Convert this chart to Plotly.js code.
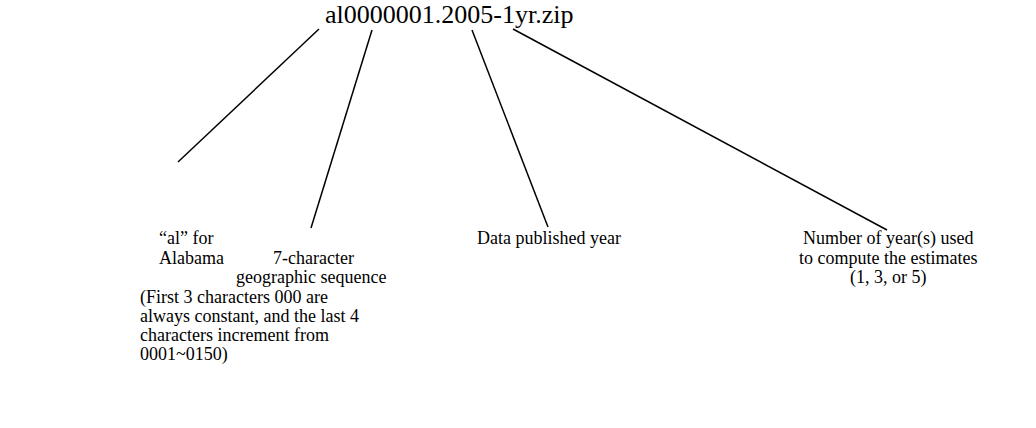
<!DOCTYPE html>
<html>
<head>
<meta charset="utf-8">
<script src="https://cdn.plot.ly/plotly-3.0.1.min.js"></script>
<style>html,body{margin:0;padding:0;background:#fff;}#chart{width:1036px;height:428px;}</style>
</head>
<body>
<div id="chart"></div>
<script>
// File name being explained
const fileName = "al0000001.2005-1yr.zip";
const fileNamePos = [449, 14];

// Connector lines: start point under the file name, end point above each label
const connStartX = [319, 372, 472, 513];
const connStartY = [29, 30, 30, 29];
const connEndX = [178, 311, 548, 887];
const connEndY = [162, 228, 227, 230];

// Label lines: text, x, y, alignment
const labelText = [
  "\u201cal\u201d for", "Alabama",
  "7-character", "geographic sequence",
  "(First 3 characters 000 are", "always constant, and the last 4",
  "characters increment from", "0001~0150)",
  "Data published year",
  "Number of year(s) used", "to compute the estimates", "(1, 3, or 5)"
];
const labelX = [157, 157, 313, 311, 138, 138, 138, 138, 549, 888, 888, 888];
const labelY = [238, 258, 258, 277, 297, 316, 335, 354, 238, 238, 258, 277];
const labelAlign = ["left", "left", "center", "center", "left", "left", "left", "left", "center", "center", "center", "center"];

const fontFam = "Liberation Serif, Times New Roman, serif";
const fontSize = 18;
const titleSize = 26;

const traces = connStartX.map((x0, i) => ({
  type: "scatter", mode: "lines",
  x: [x0, connEndX[i]], y: [connStartY[i], connEndY[i]],
  line: {color: "#000", width: 1.5}, hoverinfo: "skip", showlegend: false
}));

const annotations = [{
  x: fileNamePos[0], y: fileNamePos[1], xref: "x", yref: "y",
  text: fileName, showarrow: false, xanchor: "center", yanchor: "middle",
  font: {family: fontFam, size: titleSize, color: "#000"}
}].concat(labelText.map((t, i) => ({
  x: labelX[i], y: labelY[i], xref: "x", yref: "y", text: t, showarrow: false,
  xanchor: labelAlign[i], yanchor: "middle",
  font: {family: fontFam, size: fontSize, color: "#000"}
})));

Plotly.newPlot("chart", traces, {
  width: 1036, height: 428,
  margin: {l: 0, r: 0, t: 0, b: 0},
  paper_bgcolor: "#fff", plot_bgcolor: "#fff",
  xaxis: {range: [0, 1036], visible: false, fixedrange: true},
  yaxis: {range: [428, 0], visible: false, fixedrange: true},
  annotations: annotations,
  showlegend: false
}, {displayModeBar: false, staticPlot: true});
</script>
</body>
</html>
